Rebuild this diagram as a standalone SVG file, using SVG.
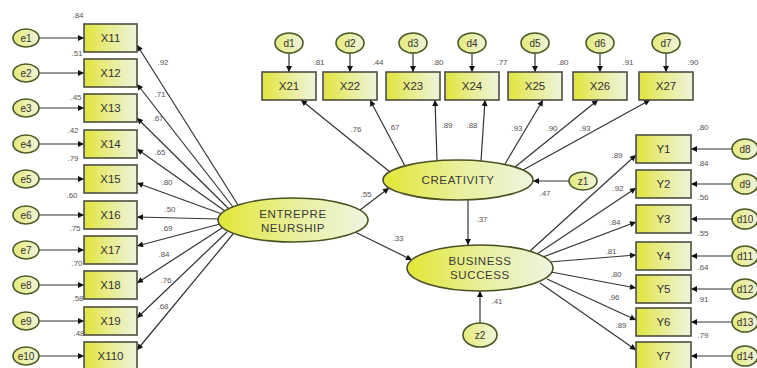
<svg xmlns="http://www.w3.org/2000/svg" width="757" height="368" viewBox="0 0 757 368">
<defs>
<linearGradient id="gb" x1="0" y1="0" x2="1" y2="0">
<stop offset="0" stop-color="#e0e43a"/><stop offset="0.45" stop-color="#e8ec8c"/><stop offset="1" stop-color="#eef3de"/>
</linearGradient>
<linearGradient id="gl" x1="0" y1="0" x2="1" y2="0">
<stop offset="0" stop-color="#e2e634"/><stop offset="0.5" stop-color="#e9ef9a"/><stop offset="1" stop-color="#eef5e2"/>
</linearGradient>
<linearGradient id="ge" x1="0" y1="0" x2="1" y2="0">
<stop offset="0" stop-color="#e6ea7a"/><stop offset="1" stop-color="#f0f4dc"/>
</linearGradient>
<marker id="ah" viewBox="0 0 10 10" refX="10" refY="5" markerWidth="9" markerHeight="6" orient="auto" markerUnits="userSpaceOnUse">
<path d="M0,0 L10,5 L0,10 z" fill="#111"/>
</marker>
<style>
.box{fill:url(#gb);stroke:#4e4e40;stroke-width:1.6}
.lat{fill:url(#gl);stroke:#4a5020;stroke-width:1.6}
.err{fill:url(#ge);stroke:#4a5a22;stroke-width:1.6}
.bt{font-family:"Liberation Sans",Arial,sans-serif;font-size:11.5px;fill:#333;text-anchor:middle}
.lt{font-family:"Liberation Sans",Arial,sans-serif;font-size:11.5px;fill:#3a3a3a;text-anchor:middle;letter-spacing:0.6px}
.et{font-family:"Liberation Sans",Arial,sans-serif;font-size:10px;fill:#333;text-anchor:middle}
.n{font-family:"Liberation Sans",Arial,sans-serif;font-size:8px;fill:#555;text-anchor:middle}
.c line{stroke:#333;stroke-width:1.2;marker-end:url(#ah)}
</style>
</defs>
<rect width="757" height="368" fill="#fff"/>

<g id="connectors" class="c">
<!-- e -> X1x -->
<line x1="39" y1="38" x2="84" y2="38"/>
<line x1="39" y1="73" x2="84" y2="73"/>
<line x1="39" y1="108" x2="84" y2="108"/>
<line x1="39" y1="144" x2="84" y2="144"/>
<line x1="39" y1="179" x2="84" y2="179"/>
<line x1="39" y1="215" x2="84" y2="215"/>
<line x1="39" y1="250" x2="84" y2="250"/>
<line x1="39" y1="285" x2="84" y2="285"/>
<line x1="39" y1="321" x2="84" y2="321"/>
<line x1="39" y1="356" x2="84" y2="356"/>
<!-- ENTREPRENEURSHIP -> X1x -->
<line x1="238" y1="205" x2="137" y2="45"/>
<line x1="233" y1="207" x2="137" y2="84"/>
<line x1="229" y1="209" x2="137" y2="118"/>
<line x1="225" y1="211" x2="137" y2="149"/>
<line x1="222" y1="214" x2="137" y2="183"/>
<line x1="219" y1="219" x2="137" y2="217"/>
<line x1="220" y1="224" x2="137" y2="246"/>
<line x1="222" y1="228" x2="137" y2="283"/>
<line x1="227" y1="232" x2="137" y2="318"/>
<line x1="233" y1="234" x2="137" y2="350"/>
<!-- d -> X2x -->
<line x1="289" y1="53" x2="289" y2="72"/>
<line x1="350" y1="53" x2="350" y2="72"/>
<line x1="413" y1="53" x2="413" y2="72"/>
<line x1="472" y1="53" x2="472" y2="72"/>
<line x1="535" y1="53" x2="535" y2="72"/>
<line x1="600" y1="53" x2="600" y2="72"/>
<line x1="666" y1="53" x2="666" y2="72"/>
<!-- CREATIVITY -> X2x -->
<line x1="390" y1="172" x2="301" y2="100"/>
<line x1="405" y1="166" x2="370" y2="100"/>
<line x1="437" y1="161" x2="435" y2="100"/>
<line x1="481" y1="161" x2="485" y2="100"/>
<line x1="505" y1="164" x2="543" y2="100"/>
<line x1="515" y1="167" x2="598" y2="100"/>
<line x1="523" y1="170" x2="650" y2="100"/>
<!-- structural -->
<line x1="569" y1="181" x2="533" y2="181"/>
<line x1="360" y1="210" x2="389" y2="188"/>
<line x1="355" y1="232" x2="412" y2="260"/>
<line x1="468" y1="200" x2="468" y2="245"/>
<line x1="480" y1="323" x2="480" y2="291"/>
<!-- BUSINESS SUCCESS -> Y -->
<line x1="530" y1="251" x2="636" y2="155"/>
<line x1="537" y1="254" x2="636" y2="188"/>
<line x1="543" y1="257" x2="636" y2="222"/>
<line x1="549" y1="262" x2="636" y2="255"/>
<line x1="551" y1="272" x2="636" y2="288"/>
<line x1="547" y1="279" x2="636" y2="320"/>
<line x1="540" y1="283" x2="636" y2="350"/>
<!-- d -> Y -->
<line x1="732" y1="149" x2="691" y2="149"/>
<line x1="732" y1="184" x2="691" y2="184"/>
<line x1="732" y1="219" x2="691" y2="219"/>
<line x1="732" y1="256" x2="691" y2="256"/>
<line x1="732" y1="289" x2="691" y2="289"/>
<line x1="732" y1="322" x2="691" y2="322"/>
<line x1="732" y1="356" x2="691" y2="356"/>
</g>

<g id="labels-paths">
<text class="n" x="163" y="65">.92</text>
<text class="n" x="160" y="97">.71</text>
<text class="n" x="158" y="121">.67</text>
<text class="n" x="160" y="155">.65</text>
<text class="n" x="167" y="185">.80</text>
<text class="n" x="170" y="212">.50</text>
<text class="n" x="167" y="231">.69</text>
<text class="n" x="164" y="257">.84</text>
<text class="n" x="166" y="283">.76</text>
<text class="n" x="163" y="309">.68</text>
<text class="n" x="356" y="132">.76</text>
<text class="n" x="394" y="130">.67</text>
<text class="n" x="447" y="128">.89</text>
<text class="n" x="472" y="128">.88</text>
<text class="n" x="517" y="131">.93</text>
<text class="n" x="552" y="131">.90</text>
<text class="n" x="585" y="131">.93</text>
<text class="n" x="545" y="196">.47</text>
<text class="n" x="366" y="197">.55</text>
<text class="n" x="398" y="241">.33</text>
<text class="n" x="482" y="222">.37</text>
<text class="n" x="497" y="304">.41</text>
<text class="n" x="617" y="158">.89</text>
<text class="n" x="618" y="191">.92</text>
<text class="n" x="615" y="225">.84</text>
<text class="n" x="611" y="254">.81</text>
<text class="n" x="616" y="277">.80</text>
<text class="n" x="614" y="300">.96</text>
<text class="n" x="621" y="328">.89</text>
</g>

<g id="e1"><ellipse class="err" cx="26" cy="38" rx="13" ry="9"/><text class="et" x="26" y="41.5">e1</text></g>
<g id="e2"><ellipse class="err" cx="26" cy="73" rx="13" ry="9"/><text class="et" x="26" y="76.5">e2</text></g>
<g id="e3"><ellipse class="err" cx="26" cy="108" rx="13" ry="9"/><text class="et" x="26" y="111.5">e3</text></g>
<g id="e4"><ellipse class="err" cx="26" cy="144" rx="13" ry="9"/><text class="et" x="26" y="147.5">e4</text></g>
<g id="e5"><ellipse class="err" cx="26" cy="179" rx="13" ry="9"/><text class="et" x="26" y="182.5">e5</text></g>
<g id="e6"><ellipse class="err" cx="26" cy="215" rx="13" ry="9"/><text class="et" x="26" y="218.5">e6</text></g>
<g id="e7"><ellipse class="err" cx="26" cy="250" rx="13" ry="9"/><text class="et" x="26" y="253.5">e7</text></g>
<g id="e8"><ellipse class="err" cx="26" cy="285" rx="13" ry="9"/><text class="et" x="26" y="288.5">e8</text></g>
<g id="e9"><ellipse class="err" cx="26" cy="321" rx="13" ry="9"/><text class="et" x="26" y="324.5">e9</text></g>
<g id="e10"><ellipse class="err" cx="26" cy="356" rx="13" ry="9"/><text class="et" x="26" y="359.5">e10</text></g>

<g id="X11"><rect class="box" x="84" y="24" width="53" height="28"/><text class="bt" x="110.5" y="42">X11</text><text class="n" x="78" y="18">.84</text></g>
<g id="X12"><rect class="box" x="84" y="59" width="53" height="28"/><text class="bt" x="110.5" y="77">X12</text><text class="n" x="77" y="56">.51</text></g>
<g id="X13"><rect class="box" x="84" y="94" width="53" height="28"/><text class="bt" x="110.5" y="112">X13</text><text class="n" x="76" y="100">.45</text></g>
<g id="X14"><rect class="box" x="84" y="130" width="53" height="28"/><text class="bt" x="110.5" y="148">X14</text><text class="n" x="73" y="133">.42</text></g>
<g id="X15"><rect class="box" x="84" y="165" width="53" height="28"/><text class="bt" x="110.5" y="183">X15</text><text class="n" x="73" y="161">.79</text></g>
<g id="X16"><rect class="box" x="84" y="201" width="53" height="28"/><text class="bt" x="110.5" y="219">X16</text><text class="n" x="72" y="198">.60</text></g>
<g id="X17"><rect class="box" x="84" y="236" width="53" height="28"/><text class="bt" x="110.5" y="254">X17</text><text class="n" x="75" y="231">.75</text></g>
<g id="X18"><rect class="box" x="84" y="271" width="53" height="28"/><text class="bt" x="110.5" y="289">X18</text><text class="n" x="77" y="266">.70</text></g>
<g id="X19"><rect class="box" x="84" y="307" width="53" height="28"/><text class="bt" x="110.5" y="325">X19</text><text class="n" x="78" y="301">.58</text></g>
<g id="X110"><rect class="box" x="84" y="342" width="53" height="28"/><text class="bt" x="110.5" y="360">X110</text><text class="n" x="79" y="336">.48</text></g>

<g id="d1"><ellipse class="err" cx="289" cy="43" rx="14" ry="10"/><text class="et" x="289" y="46.5">d1</text></g>
<g id="d2"><ellipse class="err" cx="350" cy="43" rx="14" ry="10"/><text class="et" x="350" y="46.5">d2</text></g>
<g id="d3"><ellipse class="err" cx="413" cy="43" rx="14" ry="10"/><text class="et" x="413" y="46.5">d3</text></g>
<g id="d4"><ellipse class="err" cx="472" cy="43" rx="14" ry="10"/><text class="et" x="472" y="46.5">d4</text></g>
<g id="d5"><ellipse class="err" cx="535" cy="43" rx="14" ry="10"/><text class="et" x="535" y="46.5">d5</text></g>
<g id="d6"><ellipse class="err" cx="600" cy="43" rx="14" ry="10"/><text class="et" x="600" y="46.5">d6</text></g>
<g id="d7"><ellipse class="err" cx="666" cy="43" rx="14" ry="10"/><text class="et" x="666" y="46.5">d7</text></g>

<g id="X21"><rect class="box" x="262" y="72" width="54" height="28"/><text class="bt" x="289" y="90">X21</text><text class="n" x="319" y="65">.81</text></g>
<g id="X22"><rect class="box" x="323" y="72" width="54" height="28"/><text class="bt" x="350" y="90">X22</text><text class="n" x="378" y="65">.44</text></g>
<g id="X23"><rect class="box" x="386" y="72" width="54" height="28"/><text class="bt" x="413" y="90">X23</text><text class="n" x="438" y="65">.80</text></g>
<g id="X24"><rect class="box" x="445" y="72" width="54" height="28"/><text class="bt" x="472" y="90">X24</text><text class="n" x="502" y="65">.77</text></g>
<g id="X25"><rect class="box" x="508" y="72" width="54" height="28"/><text class="bt" x="535" y="90">X25</text><text class="n" x="563" y="65">.80</text></g>
<g id="X26"><rect class="box" x="573" y="72" width="54" height="28"/><text class="bt" x="600" y="90">X26</text><text class="n" x="628" y="65">.91</text></g>
<g id="X27"><rect class="box" x="639" y="72" width="54" height="28"/><text class="bt" x="666" y="90">X27</text><text class="n" x="693" y="65">.90</text></g>

<g id="ENTREPRENEURSHIP"><ellipse class="lat" cx="293" cy="220" rx="75" ry="22"/><text class="lt" x="293" y="218">ENTREPRE</text><text class="lt" x="293" y="232">NEURSHIP</text></g>
<g id="CREATIVITY"><ellipse class="lat" cx="458" cy="180" rx="75" ry="20"/><text class="lt" x="458" y="184">CREATIVITY</text></g>
<g id="BUSINESS_SUCCESS"><ellipse class="lat" cx="480" cy="268" rx="73" ry="23"/><text class="lt" x="480" y="265">BUSINESS</text><text class="lt" x="480" y="279">SUCCESS</text></g>
<g id="z1"><ellipse class="err" cx="583" cy="181" rx="14" ry="9"/><text class="et" x="583" y="184.5">z1</text></g>
<g id="z2"><ellipse class="err" cx="480" cy="335" rx="17" ry="12"/><text class="et" x="480" y="338.5">z2</text></g>

<g id="Y1"><rect class="box" x="636" y="135" width="55" height="28"/><text class="bt" x="663.5" y="153">Y1</text><text class="n" x="703" y="130">.80</text></g>
<g id="Y2"><rect class="box" x="636" y="170" width="55" height="28"/><text class="bt" x="663.5" y="188">Y2</text><text class="n" x="703" y="166">.84</text></g>
<g id="Y3"><rect class="box" x="636" y="205" width="55" height="28"/><text class="bt" x="663.5" y="223">Y3</text><text class="n" x="703" y="200">.56</text></g>
<g id="Y4"><rect class="box" x="636" y="242" width="55" height="28"/><text class="bt" x="663.5" y="260">Y4</text><text class="n" x="703" y="236">.55</text></g>
<g id="Y5"><rect class="box" x="636" y="275" width="55" height="28"/><text class="bt" x="663.5" y="293">Y5</text><text class="n" x="703" y="270">.64</text></g>
<g id="Y6"><rect class="box" x="636" y="308" width="55" height="28"/><text class="bt" x="663.5" y="326">Y6</text><text class="n" x="703" y="302">.91</text></g>
<g id="Y7"><rect class="box" x="636" y="342" width="55" height="28"/><text class="bt" x="663.5" y="360">Y7</text><text class="n" x="703" y="338">.79</text></g>

<g id="d8"><ellipse class="err" cx="745" cy="149" rx="13" ry="10"/><text class="et" x="745" y="152.5">d8</text></g>
<g id="d9"><ellipse class="err" cx="745" cy="184" rx="13" ry="10"/><text class="et" x="745" y="187.5">d9</text></g>
<g id="d10"><ellipse class="err" cx="745" cy="219" rx="13" ry="10"/><text class="et" x="745" y="222.5">d10</text></g>
<g id="d11"><ellipse class="err" cx="745" cy="256" rx="13" ry="10"/><text class="et" x="745" y="259.5">d11</text></g>
<g id="d12"><ellipse class="err" cx="745" cy="289" rx="13" ry="10"/><text class="et" x="745" y="292.5">d12</text></g>
<g id="d13"><ellipse class="err" cx="745" cy="322" rx="13" ry="10"/><text class="et" x="745" y="325.5">d13</text></g>
<g id="d14"><ellipse class="err" cx="745" cy="356" rx="13" ry="10"/><text class="et" x="745" y="359.5">d14</text></g>
</svg>
